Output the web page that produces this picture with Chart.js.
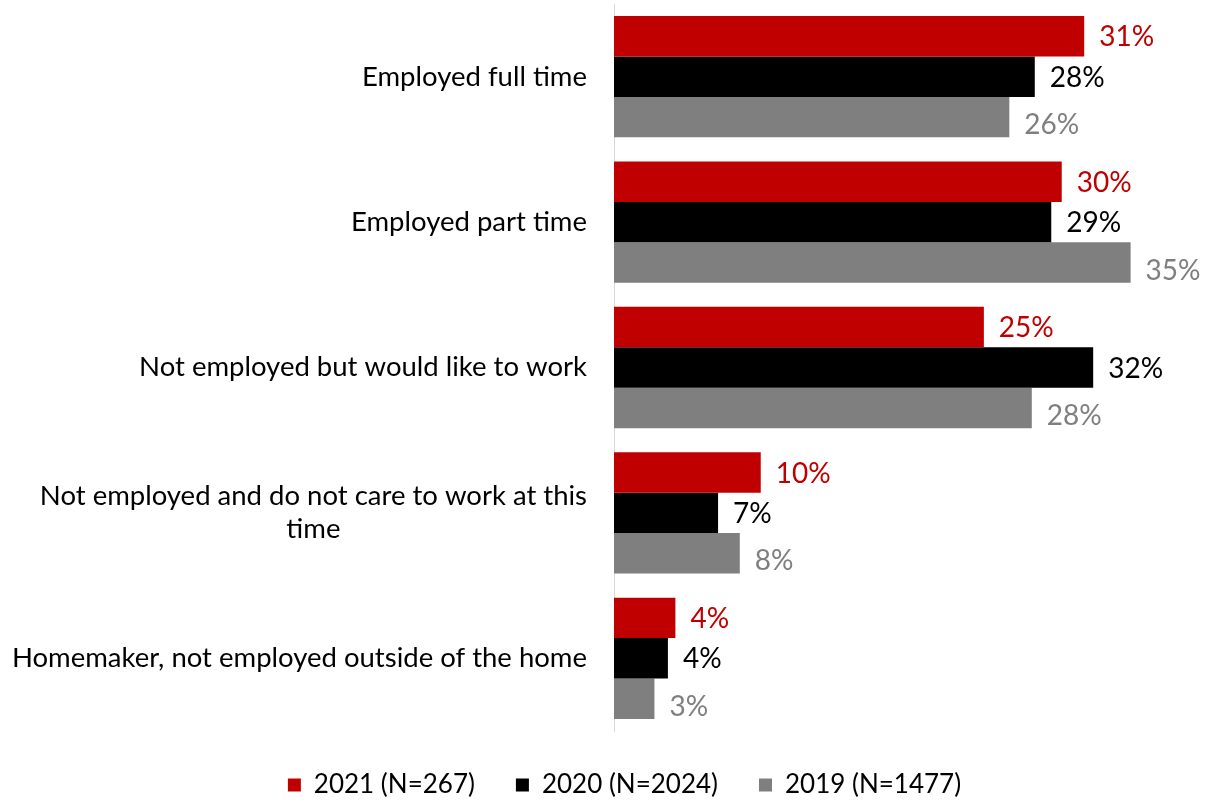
<!DOCTYPE html>
<html>
<head>
<meta charset="utf-8">
<script src="https://cdn.jsdelivr.net/npm/chart.js@4.4.1/dist/chart.umd.min.js"></script>
<style>
  html, body { margin: 0; padding: 0; background: #fff; }
  #container-grafico { width: 1210px; height: 802px; position: relative; }
</style>
</head>
<body>
<div id="container-grafico"><canvas id="graficoBarras"></canvas></div>
<script>
// ===============================
// DADOS
// ===============================
const categorias = [
  ['Employed full time'],
  ['Employed part time'],
  ['Not employed but would like to work'],
  ['Not employed and do not care to work at this', 'time'],
  ['Homemaker, not employed outside of the home']
];
const legendas = ['2021 (N=267)', '2020 (N=2024)', '2019 (N=1477)'];
const valores2021 = [31.4, 29.9, 24.7, 9.8, 4.1];
const valores2020 = [28.1, 29.2, 32.0, 6.95, 3.6];
const valores2019 = [26.4, 34.5, 27.9, 8.4, 2.7];

const FONTE = 'Lato, "Open Sans", sans-serif';
const TAM_CAT = 27.5;
const TAM_VAL = 28;
const TAM_LEG = 26;

// rótulos das categorias (linhas centradas, bloco alinhado à direita)
const rotulosCategorias = {
  id: 'rotulosCategorias',
  afterDraw(chart) {
    const { ctx, chartArea } = chart;
    const y = chart.scales.y;
    ctx.save();
    ctx.font = `${TAM_CAT}px ${FONTE}`;
    ctx.fillStyle = '#000000';
    ctx.textBaseline = 'middle';
    ctx.textAlign = 'center';
    categorias.forEach((linhas, i) => {
      const yc = y.getPixelForValue(i);
      const largura = Math.max(...linhas.map(l => ctx.measureText(l).width));
      const xc = chartArea.left - 27 - largura / 2;
      linhas.forEach((l, j) => {
        ctx.fillText(l, xc, yc + (j - (linhas.length - 1) / 2) * 33);
      });
    });
    ctx.restore();
  }
};

// rótulos de valor no fim das barras
const rotulosValores = {
  id: 'rotulosValores',
  afterDatasetsDraw(chart) {
    const { ctx } = chart;
    ctx.save();
    ctx.font = `${TAM_VAL}px ${FONTE}`;
    ctx.textBaseline = 'middle';
    ctx.textAlign = 'left';
    chart.data.datasets.forEach((ds, i) => {
      const meta = chart.getDatasetMeta(i);
      ctx.fillStyle = ds.corRotulo;
      meta.data.forEach((bar, j) => {
        ctx.fillText(Math.round(ds.data[j]) + '%', bar.x + 15, bar.y + (ds.deslocRotulo || 0));
      });
    });
    ctx.restore();
  }
};

// legenda um pouco deslocada para a direita, como no original
const deslocaLegenda = {
  id: 'deslocaLegenda',
  afterLayout(chart) {
    if (!chart.legend) return;
    chart.legend.left += 24;
    chart.legend.right += 24;
  }
};

new Chart(document.getElementById('graficoBarras'), {
  type: 'bar',
  data: {
    labels: categorias,
    datasets: [
      { label: legendas[0], data: valores2021, backgroundColor: '#C00000', corRotulo: '#C00000', deslocRotulo: 1 },
      { label: legendas[1], data: valores2020, backgroundColor: '#000000', corRotulo: '#000000', deslocRotulo: 1 },
      { label: legendas[2], data: valores2019, backgroundColor: '#7F7F7F', corRotulo: '#7F7F7F', deslocRotulo: 8 }
    ]
  },
  options: {
    indexAxis: 'y',
    responsive: true,
    maintainAspectRatio: false,
    animation: false,
    categoryPercentage: 0.834,
    barPercentage: 1.0,
    layout: { padding: { left: 0, right: 9, top: 4, bottom: -6 } },
    scales: {
      x: { display: false, min: 0, max: 39.2 },
      y: {
        display: true,
        ticks: { display: false },
        grid: { display: false, drawTicks: false },
        border: { display: true, color: '#D9D9D9', width: 1 },
        afterFit(scale) { scale.width = 614; }
      }
    },
    plugins: {
      tooltip: { enabled: false },
      legend: {
        position: 'bottom',
        labels: {
          boxWidth: 13,
          boxHeight: 13,
          padding: 41,
          color: '#000000',
          font: { family: FONTE, size: TAM_LEG }
        }
      }
    }
  },
  plugins: [rotulosCategorias, rotulosValores, deslocaLegenda]
});
</script>
</body>
</html>
